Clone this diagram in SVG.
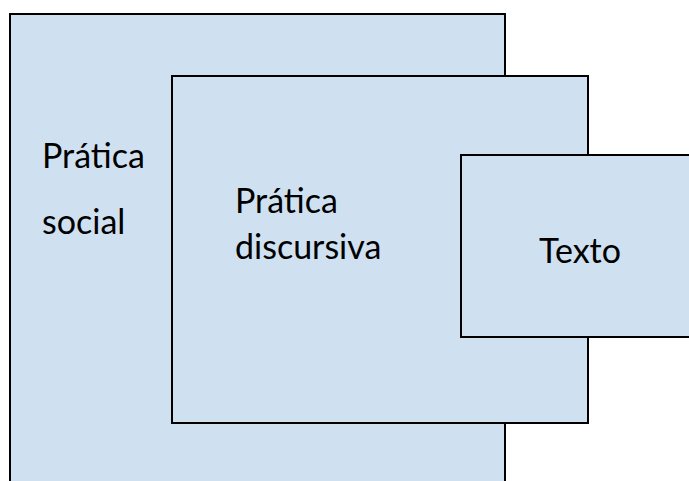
<svg xmlns="http://www.w3.org/2000/svg" width="689" height="481" viewBox="0 0 689 481">
<style>
.box{fill:#cfe0f1;stroke:#000;stroke-width:2}
.t{font-family:Lato,"Open Sans","Liberation Sans",sans-serif;font-size:34px;fill:#000}
</style>
<rect width="689" height="481" fill="#fff"/>
<g id="pratica-social">
<rect class="box" x="10" y="14" width="495" height="480"/>
<text class="t" x="42" y="168">Prática</text>
<text class="t" x="42" y="234">social</text>
</g>
<g id="pratica-discursiva">
<rect class="box" x="172" y="76" width="416" height="347"/>
<text class="t" x="235" y="213">Prática</text>
<text class="t" x="235" y="259">discursiva</text>
</g>
<g id="texto">
<rect class="box" x="461" y="155" width="240" height="182"/>
<text class="t" x="539" y="263">Texto</text>
</g>
<g id="connectors"></g>
</svg>
